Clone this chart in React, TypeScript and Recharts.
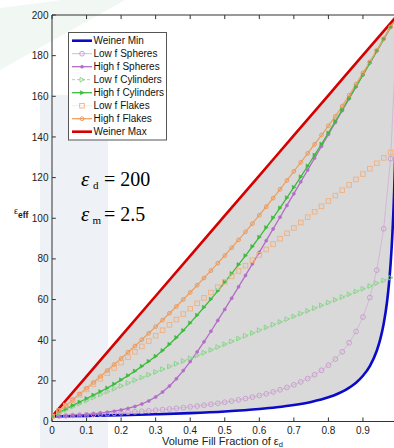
import React from 'react';
import { ComposedChart, Line, Area, XAxis, YAxis, ReferenceLine } from 'recharts';

// volume fill fraction grid for the marked series
const F = [0, 0.02, 0.04, 0.06, 0.08, 0.1, 0.12, 0.14, 0.16, 0.18, 0.2, 0.22, 0.24, 0.26, 0.28, 0.3, 0.32, 0.34, 0.36, 0.38, 0.4, 0.42, 0.44, 0.46, 0.48, 0.5, 0.52, 0.54, 0.56, 0.58, 0.6, 0.62, 0.64, 0.66, 0.68, 0.7, 0.72, 0.74, 0.76, 0.78, 0.8, 0.82, 0.84, 0.86, 0.88, 0.9, 0.92, 0.94, 0.96, 0.98, 1.0];

const LOW_F_SPHERES = [2.5, 2.65, 2.8, 2.96, 3.13, 3.3, 3.48, 3.67, 3.87, 4.07, 4.29, 4.52, 4.76, 5.01, 5.27, 5.55, 5.84, 6.15, 6.48, 6.83, 7.2, 7.6, 8.02, 8.47, 8.95, 9.47, 10.03, 10.63, 11.29, 12.0, 12.77, 13.62, 14.56, 15.6, 16.75, 18.03, 19.48, 21.13, 23.01, 25.18, 27.71, 30.71, 34.32, 38.74, 44.28, 51.42, 60.99, 74.46, 94.84, 129.3, 200];
const HIGH_F_SPHERES = [2.5, 2.65, 2.83, 3.02, 3.25, 3.5, 3.8, 4.15, 4.57, 5.08, 5.69, 6.45, 7.4, 8.6, 10.13, 12.08, 14.52, 17.51, 21.04, 25.05, 29.48, 34.23, 39.22, 44.41, 49.73, 55.16, 60.67, 66.25, 71.88, 77.55, 83.25, 88.99, 94.74, 100.51, 106.3, 112.1, 117.92, 123.75, 129.6, 135.42, 141.3, 147.13, 152.98, 158.85, 164.72, 170.6, 176.47, 182.35, 188.23, 194.11, 200];
const LOW_F_CYLINDERS = [2.5, 4.1, 5.7, 7.25, 8.8, 10.3, 11.8, 13.25, 14.7, 16.1, 17.5, 18.9, 20.3, 21.65, 23.0, 24.35, 25.7, 27.05, 28.4, 29.75, 31.1, 32.45, 33.8, 35.2, 36.6, 38.0, 39.4, 40.8, 42.15, 43.5, 44.9, 46.26, 47.62, 48.98, 50.34, 51.7, 53.06, 54.42, 55.78, 57.14, 58.5, 59.86, 61.22, 62.58, 63.94, 65.3, 66.66, 68.02, 69.38, 70.74, 72.1];
const HIGH_F_CYLINDERS = [2.5, 4.4, 6.2, 7.9, 9.6, 11.3, 13.0, 14.7, 16.5, 18.4, 20.5, 22.6, 24.8, 27.2, 29.6, 32.1, 34.9, 38.0, 41.3, 44.8, 48.5, 52.3, 56.2, 60.2, 64.3, 68.5, 72.8, 77.2, 81.6, 86.1, 90.7, 95.4, 100.2, 105.1, 110.1, 115.2, 120.4, 125.7, 131.1, 136.5, 142.0, 147.7, 153.4, 159.1, 164.8, 170.5, 176.3, 182.1, 188.0, 194.0, 200];
const LOW_F_FLAKES = [2.5, 5.15, 7.8, 10.45, 13.1, 15.75, 18.4, 21.05, 23.7, 26.35, 29.0, 31.65, 34.3, 36.95, 39.6, 42.25, 44.9, 47.55, 50.2, 52.85, 55.5, 58.15, 60.8, 63.45, 66.1, 68.75, 71.4, 74.05, 76.7, 79.35, 82.0, 84.65, 87.3, 89.95, 92.6, 95.25, 97.9, 100.55, 103.2, 105.85, 108.5, 111.15, 113.8, 116.45, 119.1, 121.75, 124.4, 127.05, 129.7, 132.35, 135.0];
const HIGH_F_FLAKES = [2.5, 5.15, 7.9, 10.75, 13.5, 16.35, 19.2, 22.15, 25.1, 28.05, 31.0, 34.05, 37.1, 40.25, 43.4, 46.65, 49.9, 53.25, 56.6, 60.05, 63.5, 67.05, 70.6, 74.25, 77.9, 81.65, 85.5, 89.35, 93.3, 97.35, 101.5, 105.65, 109.9, 114.25, 118.6, 123.05, 127.5, 131.95, 136.4, 140.95, 145.5, 150.1, 155.2, 160.5, 166.0, 171.5, 177.0, 182.6, 188.3, 194.1, 200];

// Wiener bounds (finer grid near f = 1)
const BOUND_F = [0, 0.1, 0.2, 0.3, 0.4, 0.5, 0.6, 0.65, 0.7, 0.75, 0.8, 0.85, 0.88, 0.9, 0.92, 0.94, 0.95, 0.96, 0.97, 0.975, 0.98, 0.985, 0.99, 0.995, 1.0];
const WEINER_MIN = [2.5, 2.77, 3.12, 3.55, 4.13, 4.94, 6.13, 6.98, 8.1, 9.64, 11.9, 15.6, 19.1, 22.5, 27.3, 34.8, 40.4, 48.1, 59.3, 67.2, 77.5, 91.5, 111.7, 143.4, 200];
const WEINER_MAX = [2.5, 22.25, 42.0, 61.75, 81.5, 101.25, 121.0, 130.88, 140.75, 150.63, 160.5, 170.38, 176.3, 180.25, 184.2, 188.15, 190.13, 192.1, 194.08, 195.06, 196.05, 197.04, 198.03, 199.01, 200];

const X_TICKS = [0, 0.1, 0.2, 0.3, 0.4, 0.5, 0.6, 0.7, 0.8, 0.9];
const Y_TICKS = [0, 20, 40, 60, 80, 100, 120, 140, 160, 180, 200];

const SERIES_NAMES = ['Weiner Min', 'Low f Spheres', 'High f Spheres', 'Low f Cylinders', 'High f Cylinders', 'Low f Flakes', 'High f Flakes', 'Weiner Max'];

const SANS = '"Liberation Sans", Arial, sans-serif';
const SERIF = '"Liberation Serif", "Times New Roman", serif';

const rows = (ys: number[]) => F.map((f, i) => ({ f, v: ys[i] }));
const boundRows = BOUND_F.map((f, i) => ({ f, lo: WEINER_MIN[i], hi: WEINER_MAX[i], mn: WEINER_MIN[i], mx: WEINER_MAX[i] }));

type M = (cx: number, cy: number, k: string) => React.ReactElement;
const mOpenCircle = (c: string, r: number): M => (cx, cy, k) => <circle key={k} cx={cx} cy={cy} r={r} fill="none" stroke={c} strokeWidth={0.9} />;
const mFillCircle = (c: string, r: number): M => (cx, cy, k) => <circle key={k} cx={cx} cy={cy} r={r} fill={c} stroke={c} strokeWidth={0.6} />;
const mOpenTri = (c: string, s: number): M => (cx, cy, k) => (
  <polygon key={k} points={`${cx - s * 0.8},${cy - s} ${cx + s},${cy} ${cx - s * 0.8},${cy + s}`} fill="none" stroke={c} strokeWidth={0.9} />
);
const mFillTri = (c: string, s: number): M => (cx, cy, k) => (
  <polygon key={k} points={`${cx - s * 0.8},${cy - s} ${cx + s},${cy} ${cx - s * 0.8},${cy + s}`} fill={c} stroke={c} strokeWidth={0.6} />
);
const mOpenSquare = (c: string, s: number): M => (cx, cy, k) => (
  <rect key={k} x={cx - s} y={cy - s} width={2 * s} height={2 * s} fill="none" stroke={c} strokeWidth={0.9} />
);

const dotFn = (m: M) => (p: any) => {
  if (p == null || p.cx == null || p.cy == null || p.value == null) return <g key={`e${p?.index}`} />;
  return m(p.cx, p.cy, `d${p.index}`);
};

type Style = { stroke: string; width: number; dash?: string; opacity?: number; marker?: M };
const STYLES: Style[] = [
  { stroke: '#0a0ac8', width: 2.6 },
  { stroke: '#d2b2d8', width: 0.9, marker: mOpenCircle('#c79acc', 2.4) },
  { stroke: '#b46cc8', width: 1.3, marker: mFillCircle('#b46cc8', 1.5) },
  { stroke: '#98dc98', width: 1.0, dash: '3 2', marker: mOpenTri('#86d286', 2.4) },
  { stroke: '#3cbc3c', width: 1.3, marker: mFillTri('#3cbc3c', 2.0) },
  { stroke: '#f2c09a', width: 0.6, opacity: 0.5, marker: mOpenSquare('#f0b080', 2.3) },
  { stroke: '#f0a060', width: 1.3, marker: mOpenCircle('#e8955a', 1.9) },
  { stroke: '#d60000', width: 2.6 },
];

const MARKED: number[][] = [LOW_F_SPHERES, HIGH_F_SPHERES, LOW_F_CYLINDERS, HIGH_F_CYLINDERS, LOW_F_FLAKES, HIGH_F_FLAKES];

export default function App() {
  const W = 420;
  const H = 448;
  return (
    <div style={{ position: 'absolute', left: 0, top: 0, width: 394, height: 448, overflow: 'hidden', background: '#ffffff' }}>
      <svg width={394} height={448} style={{ position: 'absolute', left: 0, top: 0 }}>
        <polygon points="0,8 0,70 125,0 62,0" fill="#f1f8f3" />
        <rect x={40} y={95} width={68} height={353} fill="#eef2f7" />
      </svg>
      <div style={{ position: 'absolute', left: 0, top: 0 }}>
        <ComposedChart width={W} height={H} margin={{ top: 15, right: 22.5, bottom: 6.5, left: 0 }}>
          <XAxis
            dataKey="f"
            type="number"
            domain={[0, 1]}
            ticks={X_TICKS}
            allowDataOverflow
            tickLine={false}
            tickSize={0}
            tickMargin={5.2}
            height={20}
            axisLine={{ stroke: '#333', strokeWidth: 1 }}
            tick={{ fill: '#222', fontSize: 10, fontFamily: SANS }}
          />
          <YAxis
            type="number"
            domain={[0, 200]}
            ticks={Y_TICKS}
            allowDataOverflow
            tickLine={false}
            tickSize={0}
            tickMargin={3.5}
            width={52}
            axisLine={{ stroke: '#333', strokeWidth: 1 }}
            tick={{ fill: '#222', fontSize: 10, fontFamily: SANS }}
          />
          <Area
            data={boundRows}
            dataKey={(d: any) => [d.lo, d.hi]}
            type="linear"
            stroke="none"
            fill="#d9d9d9"
            fillOpacity={1}
            isAnimationActive={false}
            activeDot={false}
          />
          {MARKED.map((ys, i) => {
            const s = STYLES[i + 1];
            return (
              <Line
                key={SERIES_NAMES[i + 1]}
                data={rows(ys)}
                dataKey="v"
                type="linear"
                stroke={s.stroke}
                strokeWidth={s.width}
                strokeDasharray={s.dash}
                strokeOpacity={s.opacity ?? 1}
                dot={s.marker ? dotFn(s.marker) : false}
                activeDot={false}
                isAnimationActive={false}
              />
            );
          })}
          <Line data={boundRows} dataKey="mn" type="monotone" stroke={STYLES[0].stroke} strokeWidth={STYLES[0].width} dot={false} activeDot={false} isAnimationActive={false} />
          <Line data={boundRows} dataKey="mx" type="linear" stroke={STYLES[7].stroke} strokeWidth={STYLES[7].width} dot={false} activeDot={false} isAnimationActive={false} />
          <ReferenceLine y={200} stroke="#333" strokeWidth={1} />
          {Y_TICKS.map((v) => (
            <ReferenceLine key={`yt${v}`} segment={[{ x: 0, y: v }, { x: 0.011, y: v }]} stroke="#333" strokeWidth={1} />
          ))}
          {X_TICKS.map((t) => (
            <ReferenceLine key={`xb${t}`} segment={[{ x: t, y: 0 }, { x: t, y: 2 }]} stroke="#333" strokeWidth={1} />
          ))}
          {X_TICKS.map((t) => (
            <ReferenceLine key={`xt${t}`} segment={[{ x: t, y: 200 }, { x: t, y: 198 }]} stroke="#333" strokeWidth={1} />
          ))}
        </ComposedChart>
      </div>
      <svg width={394} height={448} style={{ position: 'absolute', left: 0, top: 0 }}>
        {/* legend */}
        <rect x={68.5} y={32.5} width={98} height={107.5} fill="#ffffff" stroke="#555" strokeWidth={1} />
        {SERIES_NAMES.map((name, i) => {
          const s = STYLES[i];
          const cy = 40.7 + i * 13;
          return (
            <g key={name}>
              <line x1={72} x2={92} y1={cy} y2={cy} stroke={s.stroke} strokeWidth={s.width} strokeDasharray={s.dash} strokeOpacity={s.opacity ?? 1} />
              {s.marker ? s.marker(82, cy, `lm${i}`) : null}
              <text x={93.5} y={cy + 3.6} fontSize={10} fontFamily={SANS} fill="#111">{name}</text>
            </g>
          );
        })}
        {/* annotations */}
        <text x={81} y={186} fontSize={21} fontFamily={SERIF} fontStyle="italic" fill="#000">ε</text>
        <text x={93} y={189} fontSize={11} fontFamily={SERIF} fill="#000">d</text>
        <text x={104} y={186} fontSize={20} fontFamily={SERIF} fill="#000">= 200</text>
        <text x={81} y={220.5} fontSize={21} fontFamily={SERIF} fontStyle="italic" fill="#000">ε</text>
        <text x={92.5} y={223.5} fontSize={11} fontFamily={SERIF} fill="#000">m</text>
        <text x={104} y={220.5} fontSize={20} fontFamily={SERIF} fill="#000">= 2.5</text>
        {/* axis labels */}
        <text x={14} y={214} fontSize={9} fontFamily={SANS} fill="#222">ε<tspan dy={4} fontSize={8.5} fontWeight="bold">eff</tspan></text>
        <text x={162} y={445} fontSize={11} fontFamily={SANS} fill="#222">Volume Fill Fraction of ε<tspan dy={1.5} fontSize={7.5}>d</tspan></text>
      </svg>
    </div>
  );
}
